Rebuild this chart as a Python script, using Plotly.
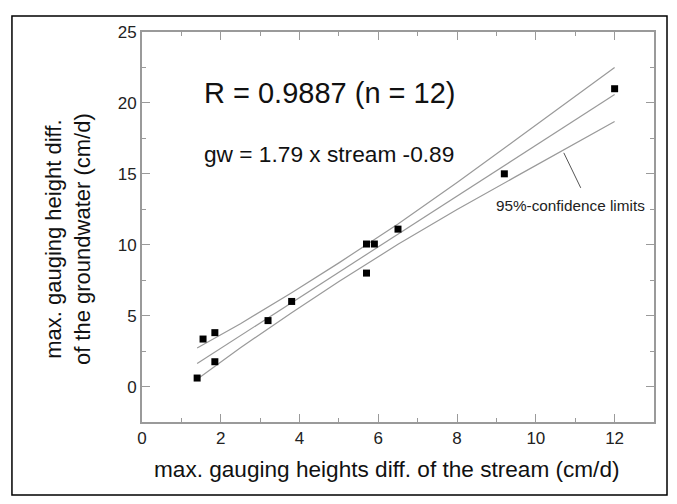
import plotly.graph_objects as go

# Observed data points (stream diff, groundwater diff), cm/d
stream = [1.4, 1.55, 1.85, 1.85, 3.2, 3.8, 5.7, 5.7, 5.9, 6.5, 9.2, 12.0]
groundwater = [0.6, 3.35, 3.8, 1.75, 4.65, 6.0, 8.0, 10.05, 10.05, 11.1, 15.0, 21.0]

# Regression line and 95%-confidence limits
line_x = [1.4, 2.5, 3.8, 5.0, 6.5, 8.0, 9.5, 12.0]
reg_y = [1.62, 3.59, 5.91, 8.06, 10.75, 13.43, 16.12, 20.59]
upper_y = [2.72, 4.43, 6.62, 8.72, 11.47, 14.38, 17.42, 22.49]
lower_y = [0.52, 2.74, 5.20, 7.40, 10.03, 12.48, 14.82, 18.69]

# Leader line from label to lower limit
leader_x = [10.71, 11.14]
leader_y = [16.48, 14.01]

x_ticks = [0, 2, 4, 6, 8, 10, 12]
y_ticks = [0, 5, 10, 15, 20, 25]

x_title = "max. gauging heights diff. of the stream (cm/d)"
y_title = "max. gauging height diff.<br>of the groundwater (cm/d)"

FONT = "Liberation Sans, Arial, Helvetica, sans-serif"
GRAY = "#9a9a9a"

fig = go.Figure()
for yy in (upper_y, reg_y, lower_y):
    fig.add_trace(go.Scatter(x=line_x, y=yy, mode="lines",
                             line=dict(color=GRAY, width=1.2),
                             showlegend=False, hoverinfo="skip"))
fig.add_trace(go.Scatter(x=leader_x, y=leader_y, mode="lines",
                         line=dict(color="#555555", width=1),
                         showlegend=False, hoverinfo="skip"))
fig.add_trace(go.Scatter(x=stream, y=groundwater, mode="markers",
                         marker=dict(symbol="square", size=7, color="black"),
                         showlegend=False))

axis_common = dict(
    showgrid=False, zeroline=False, showline=True, linecolor=GRAY, linewidth=2,
    mirror="ticks", ticks="inside", ticklen=8, tickwidth=1.2, tickcolor=GRAY,
    tickfont=dict(family=FONT, size=17, color="#222222"),
)

fig.update_xaxes(range=[0, 13], tickvals=x_ticks,
                 minor=dict(ticks="inside", dtick=1, ticklen=4, tickcolor=GRAY, tickwidth=1.2),
                 **axis_common)
fig.update_yaxes(range=[-2.5, 25], tickvals=y_ticks,
                 minor=dict(ticks="inside", dtick=2.5, ticklen=4, tickcolor=GRAY, tickwidth=1.2),
                 **axis_common)

# axis titles
fig.add_annotation(xref="paper", yref="paper", x=0.4785, y=-0.123, text=x_title,
                   showarrow=False, xanchor="center", yanchor="middle",
                   font=dict(family=FONT, size=22.6, color="#111111"))
fig.add_annotation(xref="paper", yref="paper", x=-0.1445, y=0.469, text=y_title,
                   showarrow=False, xanchor="center", yanchor="middle", textangle=-90,
                   font=dict(family=FONT, size=22, color="#111111"))

fig.add_annotation(x=1.52, y=20.7, text="R = 0.9887 (n = 12)", showarrow=False,
                   xanchor="left", yanchor="middle",
                   font=dict(family=FONT, size=29, color="#111111"))
fig.add_annotation(x=1.52, y=16.4, text="gw = 1.79 x stream -0.89", showarrow=False,
                   xanchor="left", yanchor="middle",
                   font=dict(family=FONT, size=22.7, color="#111111"))
fig.add_annotation(x=8.93, y=12.75, text="95%-confidence limits", showarrow=False,
                   xanchor="left", yanchor="middle",
                   font=dict(family=FONT, size=15.3, color="#222222"))

# outer frame around the whole figure
fig.add_shape(type="rect", xref="paper", yref="paper",
              x0=-0.254, x1=1.0254, y0=-0.187, y1=1.041,
              line=dict(color="black", width=1.5), fillcolor="rgba(0,0,0,0)", layer="below")

fig.update_layout(
    width=661, height=488,
    margin=dict(l=134, r=15, t=24, b=74),
    paper_bgcolor="white", plot_bgcolor="white",
    font=dict(family=FONT),
)

fig.write_html("out.html")
